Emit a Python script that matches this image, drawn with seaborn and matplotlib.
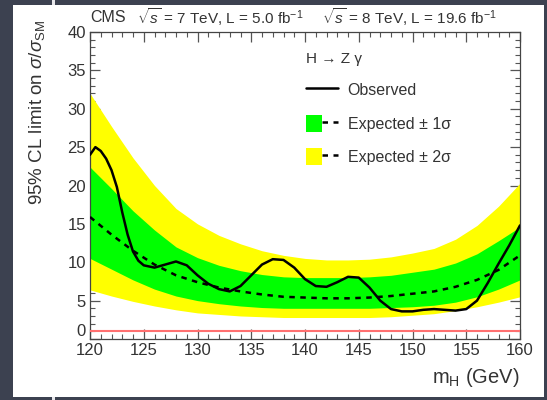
import numpy as np
import pandas as pd
import matplotlib
matplotlib.use("Agg")
import matplotlib.pyplot as plt
import seaborn as sns
from matplotlib.lines import Line2D
from matplotlib.patches import Patch, Rectangle
from matplotlib.legend_handler import HandlerTuple
from matplotlib.ticker import MultipleLocator

# ---------------- data ----------------
obs_mass = [120, 120.5, 121, 121.5, 122, 122.5, 123, 123.5, 124, 124.5, 125, 126, 127, 128,
            129, 130, 131, 132, 133, 134, 135, 136, 137, 138, 139, 140, 141, 142, 143,
            144, 145, 146, 147, 148, 149, 150, 151, 152, 153, 154, 155, 156, 157, 158,
            159, 160]
observed = [24.0, 25.0, 24.5, 23.5, 22.0, 19.8, 16.5, 13.6, 11.4, 10.2, 9.6, 9.3, 9.7, 10.1,
            9.6, 8.3, 7.2, 6.5, 6.2, 6.9, 8.3, 9.7, 10.4, 10.3, 9.3, 7.8, 6.9, 6.8, 7.4,
            8.1, 8.0, 6.7, 5.0, 3.9, 3.6, 3.6, 3.8, 3.9, 3.8, 3.7, 3.9, 5.0, 7.3, 9.8,
            12.2, 14.8]

exp_mass = [120, 122, 124, 126, 128, 130, 132, 134, 136, 138, 140,
            142, 144, 146, 148, 150, 152, 154, 156, 158, 160]
expected = [15.9, 13.6, 11.5, 9.7, 8.3, 7.4, 6.7, 6.2, 5.8, 5.5, 5.4,
            5.3, 5.3, 5.4, 5.6, 5.9, 6.2, 6.8, 7.7, 9.0, 10.9]
plus1 = [22.4, 19.6, 16.7, 14.2, 12.0, 10.6, 9.6, 8.9, 8.4, 8.1, 8.0,
         8.0, 8.0, 8.1, 8.3, 8.7, 9.1, 9.9, 11.1, 12.8, 14.6]
minus1 = [10.5, 9.1, 7.7, 6.5, 5.6, 5.0, 4.6, 4.3, 4.1, 4.0, 4.0,
          4.0, 4.0, 4.0, 4.1, 4.2, 4.4, 4.8, 5.5, 6.5, 7.7]
plus2 = [32.0, 27.7, 23.6, 20.0, 17.0, 15.0, 13.5, 12.4, 11.5, 10.9, 10.5,
         10.3, 10.3, 10.4, 10.7, 11.2, 11.8, 13.0, 14.8, 17.3, 20.3]
minus2 = [6.4, 5.6, 4.9, 4.3, 3.8, 3.4, 3.2, 3.0, 2.9, 2.8, 2.8,
          2.8, 2.8, 2.8, 2.9, 3.1, 3.3, 3.7, 4.2, 4.8, 5.5]
sm_line = 1.0

x_ticks = [120, 125, 130, 135, 140, 145, 150, 155, 160]
y_ticks = [0, 5, 10, 15, 20, 25, 30, 35, 40]

obs_df = pd.DataFrame({"mH": obs_mass, "limit": observed})
exp_df = pd.DataFrame({"mH": exp_mass, "limit": expected})

# ---------------- style ----------------
sns.set_theme(style="ticks")
plt.rcParams["font.family"] = ["Liberation Sans", "DejaVu Sans"]
plt.rcParams["mathtext.fontset"] = "custom"
plt.rcParams["mathtext.rm"] = "Liberation Sans"
plt.rcParams["mathtext.it"] = "Liberation Sans:italic"
plt.rcParams["mathtext.bf"] = "Liberation Sans:bold"

W, H = 547, 400
fig = plt.figure(figsize=(W / 100, H / 100), dpi=100, facecolor="#3c4150")
# white slide panel
fig.patches.append(Rectangle((13 / W, 1 - 397 / H), (544 - 13) / W, (397 - 5) / H,
                             transform=fig.transFigure, facecolor="white",
                             edgecolor="none", zorder=-10))
fig.patches.append(Rectangle((52 / W, 0), 3 / W, 3 / H, transform=fig.transFigure,
                             facecolor="#e8e8ec", edgecolor="none", zorder=-10))
fig.patches.append(Rectangle((52 / W, 1 - 5 / H), 3 / W, 5 / H, transform=fig.transFigure,
                             facecolor="#e8e8ec", edgecolor="none", zorder=-10))

ax = fig.add_axes([90 / W, 1 - 339 / H, (520 - 90) / W, (339 - 32) / H])
ax.set_zorder(1)
ax.set_facecolor("white")

yellow = "#ffff00"
green = "#00ff00"

ax.fill_between(exp_mass, minus2, plus2, color=yellow, linewidth=0, zorder=1)
ax.fill_between(exp_mass, minus1, plus1, color=green, linewidth=0, zorder=2)
ax.axhline(sm_line, color="#ff7070", lw=1.5, zorder=3)
sns.lineplot(data=exp_df, x="mH", y="limit", ax=ax, color="black", lw=1.8,
             linestyle=(0, (2.2, 2.2)), zorder=4)
sns.lineplot(data=obs_df, x="mH", y="limit", ax=ax, color="black", lw=1.8, zorder=5)

ax.set_xlim(120, 160)
ax.set_ylim(0, 40)
ax.set_xticks(x_ticks)
ax.set_yticks(y_ticks)
ax.xaxis.set_minor_locator(MultipleLocator(1))
ax.yaxis.set_minor_locator(MultipleLocator(1))
ax.tick_params(which="both", direction="in", top=True, right=True, colors="#555555",
               labelcolor="#333333", labelsize=12)
ax.tick_params(which="major", length=7, width=0.9, pad=3)
ax.tick_params(which="minor", length=3.5, width=0.8)
# ROOT-style: the "0" label sits slightly above the x-axis labels
ax.yaxis.get_major_ticks()[0].label1.set_va("bottom")
for s in ax.spines.values():
    s.set_color("#444444")
    s.set_linewidth(0.9)
ax.set_xlabel("")
ax.set_ylabel("")

ax.text(1.0, -0.124, r"m$_{\mathrm{H}}$ (GeV)", transform=ax.transAxes, ha="right",
        va="center", fontsize=14.5, color="#333333")
ax.text(-0.123, 1.04, r"95% CL limit on $\sigma/\sigma_{\mathrm{SM}}$", transform=ax.transAxes,
        ha="center", va="top", rotation=90, fontsize=13.5, color="#333333")

fig.text(90 / W, 1 - 17 / H, "CMS", fontsize=11.5, color="#333333", va="center", ha="left")
fig.text(137 / W, 1 - 17 / H, r"$\sqrt{s}$ = 7 TeV, L = 5.0 fb$^{-1}$", fontsize=11,
         color="#333333", va="center", ha="left")
fig.text(322 / W, 1 - 17 / H, r"$\sqrt{s}$ = 8 TeV, L = 19.6 fb$^{-1}$", fontsize=11,
         color="#333333", va="center", ha="left")

handles = [
    Line2D([], [], color="black", lw=1.8),
    (Patch(facecolor=green, edgecolor="none"),
     Line2D([], [], color="black", lw=1.8, linestyle=(0, (2.2, 2.2)))),
    (Patch(facecolor=yellow, edgecolor="none"),
     Line2D([], [], color="black", lw=1.8, linestyle=(0, (2.2, 2.2)))),
]
labels = ["Observed", "Expected ± 1σ", "Expected ± 2σ"]
leg = ax.legend(handles, labels, title="H → Z γ", loc="upper left",
                bbox_to_anchor=((306 - 90) / 430, (339 - 52) / 307),
                frameon=False, fontsize=11.5, title_fontsize=11,
                handlelength=2.0, handleheight=1.3, handletextpad=0.6,
                labelspacing=1.0, borderpad=0, borderaxespad=0,
                handler_map={tuple: HandlerTuple(ndivide=None, pad=0)})
leg._legend_box.align = "left"
leg._legend_box.sep = 11
for t in leg.get_texts():
    t.set_color("#333333")
leg.get_title().set_color("#333333")

fig.savefig("out.png", dpi=100, facecolor=fig.get_facecolor())
